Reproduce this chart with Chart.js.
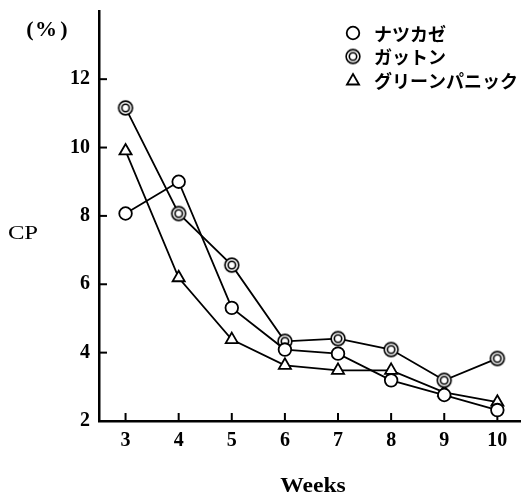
<!DOCTYPE html>
<html><head><meta charset="utf-8">
<script src="https://cdn.jsdelivr.net/npm/chart.js@4/dist/chart.umd.min.js"></script>
<style>html,body{margin:0;padding:0;background:#fff;overflow:hidden}#wrap{width:531px;height:501px}</style>
</head><body><div id="wrap"><canvas id="c"></canvas></div>
<script>
// Crude protein (CP, %) by week after seeding, three grass cultivars
const weeks = [3, 4, 5, 6, 7, 8, 9, 10];
const natsukaze  = [8.07, 9.0, 5.31, 4.09, 3.97, 3.19, 2.76, 2.32];
const gatton     = [11.16, 8.07, 6.56, 4.33, 4.41, 4.09, 3.19, 3.83];
const greenPanic = [9.9, 6.19, 4.38, 3.63, 3.48, 3.48, 2.84, 2.55];
const yTicks = [2, 4, 6, 8, 10, 12];
const seriesNames = ['ナツカゼ', 'ガットン', 'グリーンパニック'];

const SERIF = '"Liberation Serif", "DejaVu Serif", serif';
const JP = '"Noto Sans CJK JP", sans-serif';

// double-ring marker
function ringMarker() {
  const s = 18, c = document.createElement('canvas');
  c.width = s; c.height = s;
  const g = c.getContext('2d');
  g.fillStyle = '#fff'; g.strokeStyle = '#000'; g.lineWidth = 1.6;
  g.beginPath(); g.arc(s / 2, s / 2, 6.9, 0, 2 * Math.PI); g.fill(); g.stroke();
  g.beginPath(); g.arc(s / 2, s / 2, 3.7, 0, 2 * Math.PI); g.stroke();
  return c;
}
const ring = ringMarker();

function toXY(vals) { return weeks.map((w, i) => ({ x: w, y: vals[i] })); }

function series(label, vals, style, radius) {
  return {
    label, data: toXY(vals),
    borderColor: '#000', borderWidth: 1.8,
    pointStyle: style, pointRadius: radius, pointHoverRadius: radius,
    pointBackgroundColor: '#fff', pointBorderColor: '#000', pointBorderWidth: 1.8,
    tension: 0, fill: false
  };
}

function drawMarker(ctx, kind, x, y) {
  ctx.save();
  ctx.fillStyle = '#fff'; ctx.strokeStyle = '#000'; ctx.lineWidth = 1.8;
  if (kind === 'circle') {
    ctx.beginPath(); ctx.arc(x, y, 6.3, 0, 2 * Math.PI); ctx.fill(); ctx.stroke();
  } else if (kind === 'ring') {
    ctx.drawImage(ring, x - ring.width / 2, y - ring.height / 2);
  } else {
    const r = 7;
    ctx.beginPath();
    for (let k = 0; k < 3; k++) {
      const a = k * 2 * Math.PI / 3;
      const px = x + Math.sin(a) * r, py = y - Math.cos(a) * r;
      k ? ctx.lineTo(px, py) : ctx.moveTo(px, py);
    }
    ctx.closePath(); ctx.fill(); ctx.stroke();
  }
  ctx.restore();
}

// text drawn with a horizontal stretch
function wideText(ctx, text, x, y, font, sx) {
  ctx.save();
  ctx.font = font;
  ctx.translate(x, y);
  ctx.scale(sx, 1);
  ctx.fillText(text, 0, 0);
  ctx.restore();
}

const decorations = {
  id: 'decorations',
  beforeDatasetsDraw(chart) {
    const { ctx, scales: { x, y } } = chart;
    ctx.save();
    ctx.strokeStyle = '#000'; ctx.lineWidth = 2;
    // inward tick marks
    yTicks.forEach(v => {
      if (v === y.min) return;
      const py = y.getPixelForValue(v);
      ctx.beginPath(); ctx.moveTo(x.left, py); ctx.lineTo(x.left + 8, py); ctx.stroke();
    });
    weeks.forEach(w => {
      const px = x.getPixelForValue(w);
      ctx.beginPath(); ctx.moveTo(px, y.bottom); ctx.lineTo(px, y.bottom - 8); ctx.stroke();
    });
    ctx.restore();
  },
  afterDraw(chart) {
    const { ctx } = chart;
    ctx.save();
    ctx.fillStyle = '#000';
    ctx.textBaseline = 'middle';
    ctx.textAlign = 'center';
    wideText(ctx, 'Weeks', 313, 487, 'bold 20px ' + SERIF, 1.18);
    wideText(ctx, 'CP', 23, 234, '19px ' + SERIF, 1.3);
    ctx.font = 'bold 22px ' + SERIF;
    ctx.fillText('(', 30, 30);
    ctx.fillText('%', 46, 30);
    ctx.fillText(')', 64, 30);
    // legend
    const kinds = ['circle', 'ring', 'triangle'];
    ctx.textAlign = 'left';
    ctx.font = 'bold 18px ' + JP;
    seriesNames.forEach((n, i) => {
      const ly = 33 + i * 23.5;
      drawMarker(ctx, kinds[i], 353, ly + (kinds[i] === 'triangle' ? 1 : 0));
      ctx.fillText(n, 374, ly + 1);
    });
    ctx.restore();
  }
};

new Chart(document.getElementById('c'), {
  type: 'line',
  data: {
    datasets: [
      series(seriesNames[0], natsukaze, 'circle', 6.3),
      series(seriesNames[1], gatton, ring, 9),
      series(seriesNames[2], greenPanic, 'triangle', 7)
    ]
  },
  options: {
    responsive: true, maintainAspectRatio: false, animation: false,
    layout: { padding: { top: 9, right: 3, left: 0, bottom: 0 } },
    plugins: { legend: { display: false }, tooltip: { enabled: false } },
    scales: {
      x: {
        type: 'linear', min: 2.5, max: 10.43,
        afterBuildTicks: s => { s.ticks = weeks.map(v => ({ value: v })); },
        ticks: { color: '#000', padding: 8, font: { family: SERIF, size: 20, weight: 'bold' }, callback: v => String(v) },
        grid: { display: false, drawTicks: false },
        border: { display: true, color: '#000', width: 2.5 },
        afterFit: s => { s.height = 80; s.paddingLeft = 0; s.paddingRight = 0; }
      },
      y: {
        type: 'linear', min: 2, max: 14,
        afterBuildTicks: s => { s.ticks = yTicks.map(v => ({ value: v })); },
        ticks: { color: '#000', padding: 9, font: { family: SERIF, size: 20, weight: 'bold' }, callback: v => String(v) },
        grid: { display: false, drawTicks: false },
        border: { display: true, color: '#000', width: 2.5 },
        afterFit: s => { s.width = 99; s.paddingTop = 0; s.paddingBottom = 0; }
      }
    }
  },
  plugins: [decorations]
});
</script>
</body></html>
